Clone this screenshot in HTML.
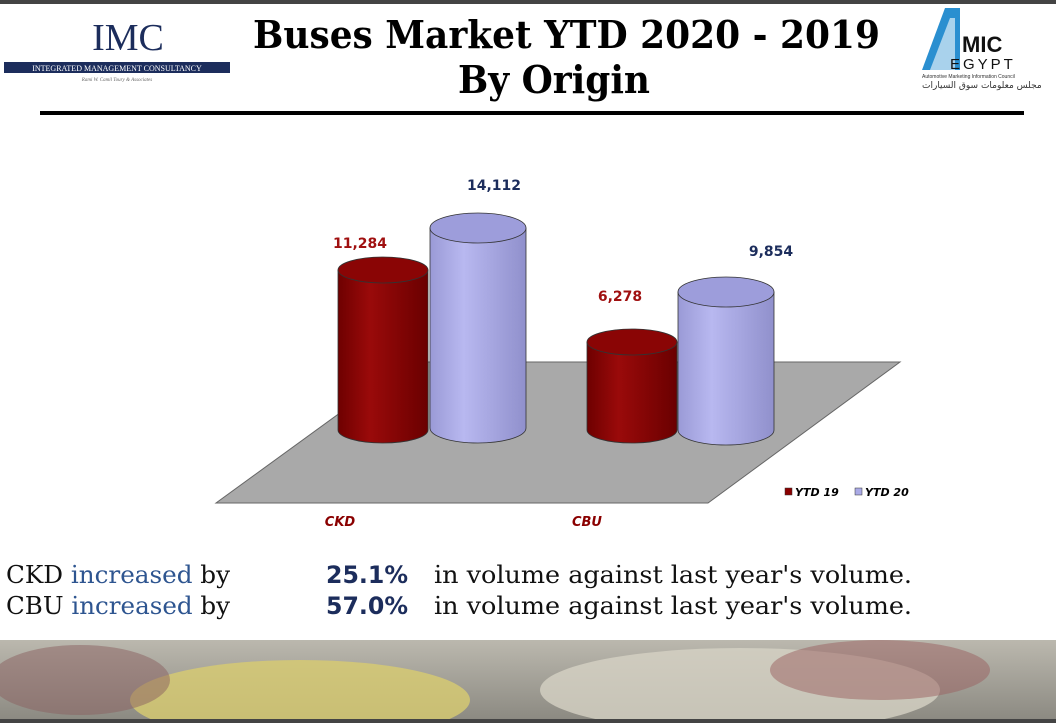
<!DOCTYPE html>
<html><head><meta charset="utf-8"><style>
html,body{margin:0;padding:0;width:1056px;height:723px;overflow:hidden;background:#fff;}
</style></head><body>
<svg width="1056" height="723" xmlns="http://www.w3.org/2000/svg" font-family="Liberation Serif, serif">
<defs>
<linearGradient id="red" x1="0" x2="1"><stop offset="0" stop-color="#6e0000"/><stop offset="0.35" stop-color="#9a0a0a"/><stop offset="1" stop-color="#6a0000"/></linearGradient>
<linearGradient id="blu" x1="0" x2="1"><stop offset="0" stop-color="#9a9ad6"/><stop offset="0.35" stop-color="#b8b8f0"/><stop offset="1" stop-color="#9090cc"/></linearGradient>
<linearGradient id="bg" x1="0" x2="0" y1="0" y2="1"><stop offset="0" stop-color="#bbb8ae"/><stop offset="1" stop-color="#8a8880"/></linearGradient>
</defs>
<rect x="0" y="0" width="1056" height="4" fill="#444"/>
<text x="128" y="50" font-size="38" fill="#1c2d5c" text-anchor="middle">IMC</text>
<rect x="4" y="62" width="226" height="11" fill="#1c2d5c"/>
<text x="117" y="71" font-size="8" fill="#fff" text-anchor="middle">INTEGRATED MANAGEMENT CONSULTANCY</text>
<text x="117" y="81" font-size="5" fill="#666" text-anchor="middle" font-style="italic">Rami W. Camil Toury &amp; Associates</text>
<text x="253" y="48" font-size="38" font-weight="bold" fill="#000" font-family="DejaVu Serif Condensed, DejaVu Serif, serif" textLength="627" lengthAdjust="spacingAndGlyphs">Buses Market YTD 2020 - 2019</text>
<text x="458" y="93" font-size="38" font-weight="bold" fill="#000" font-family="DejaVu Serif Condensed, DejaVu Serif, serif" textLength="192" lengthAdjust="spacingAndGlyphs">By Origin</text>
<polygon points="922,70 945,8 960,8 960,70" fill="#2a8fd0"/>
<polygon points="930,70 950,18 955,18 955,70" fill="#fff" opacity="0.6"/>
<text x="962" y="52" font-size="22" font-weight="bold" fill="#111" font-family="Liberation Sans, sans-serif">MIC</text>
<text x="950" y="69" font-size="15" fill="#111" font-family="Liberation Sans, sans-serif" letter-spacing="3">EGYPT</text>
<text x="922" y="78" font-size="5" fill="#333" font-family="Liberation Sans, sans-serif">Automotive Marketing Information Council</text>
<text x="922" y="88" font-size="9" fill="#333" font-family="DejaVu Sans, sans-serif">مجلس معلومات سوق السيارات</text>
<rect x="40" y="111" width="984" height="4" fill="#000"/>
<polygon points="216,503 708,503 900,362 410,362" fill="#a9a9a9" stroke="#666" stroke-width="1"/>
<g stroke="#333" stroke-width="0.8">
<path d="M338,270 L338,430 A45,13 0 0 0 428,430 L428,270 Z" fill="url(#red)"/>
<ellipse cx="383" cy="270" rx="45" ry="13" fill="#8a0505"/>
<path d="M430,228 L430,428 A48,15 0 0 0 526,428 L526,228 Z" fill="url(#blu)"/>
<ellipse cx="478" cy="228" rx="48" ry="15" fill="#9d9ddb"/>
<path d="M587,342 L587,430 A45,13 0 0 0 677,430 L677,342 Z" fill="url(#red)"/>
<ellipse cx="632" cy="342" rx="45" ry="13" fill="#8a0505"/>
<path d="M678,292 L678,430 A48,15 0 0 0 774,430 L774,292 Z" fill="url(#blu)"/>
<ellipse cx="726" cy="292" rx="48" ry="15" fill="#9d9ddb"/>
</g>
<g font-family="DejaVu Sans, sans-serif" font-weight="bold" font-size="14" text-anchor="middle">
<text x="360" y="248" fill="#a01010">11,284</text>
<text x="494" y="190" fill="#1c2d5c">14,112</text>
<text x="620" y="301" fill="#a01010">6,278</text>
<text x="771" y="256" fill="#1c2d5c">9,854</text>
</g>
<g font-family="DejaVu Sans, sans-serif" font-weight="bold" font-style="italic" font-size="13" text-anchor="middle" fill="#8a0000">
<text x="340" y="526">CKD</text>
<text x="587" y="526">CBU</text>
</g>
<rect x="785" y="488" width="7" height="7" fill="#8a0000" stroke="#333" stroke-width="0.5"/>
<text x="795" y="496" font-size="11" font-weight="bold" font-style="italic" font-family="DejaVu Sans, sans-serif" fill="#000">YTD 19</text>
<rect x="855" y="488" width="7" height="7" fill="#aaaae6" stroke="#333" stroke-width="0.5"/>
<text x="865" y="496" font-size="11" font-weight="bold" font-style="italic" font-family="DejaVu Sans, sans-serif" fill="#000">YTD 20</text>
<g font-size="24" font-family="DejaVu Serif Condensed, DejaVu Serif, serif">
<text x="6" y="583" textLength="224" lengthAdjust="spacingAndGlyphs"><tspan fill="#111">CKD </tspan><tspan fill="#2e5590">increased</tspan><tspan fill="#111"> by</tspan></text>
<text x="6" y="614" textLength="224" lengthAdjust="spacingAndGlyphs"><tspan fill="#111">CBU </tspan><tspan fill="#2e5590">increased</tspan><tspan fill="#111"> by</tspan></text>
<text x="326" y="583" font-weight="bold" fill="#1c2d5c" font-family="DejaVu Sans, sans-serif" textLength="82" lengthAdjust="spacingAndGlyphs">25.1%</text>
<text x="326" y="614" font-weight="bold" fill="#1c2d5c" font-family="DejaVu Sans, sans-serif" textLength="82" lengthAdjust="spacingAndGlyphs">57.0%</text>
<text x="434" y="583" fill="#111" textLength="478" lengthAdjust="spacingAndGlyphs">in volume against last year's volume.</text>
<text x="434" y="614" fill="#111" textLength="478" lengthAdjust="spacingAndGlyphs">in volume against last year's volume.</text>
</g>
<rect x="0" y="640" width="1056" height="83" fill="url(#bg)"/>
<ellipse cx="300" cy="700" rx="170" ry="40" fill="#d8cc70" opacity="0.8"/>
<ellipse cx="740" cy="690" rx="200" ry="42" fill="#d6d2c4" opacity="0.8"/>
<ellipse cx="80" cy="680" rx="90" ry="35" fill="#8a6060" opacity="0.5"/>
<ellipse cx="880" cy="670" rx="110" ry="30" fill="#9a6060" opacity="0.5"/>
<rect x="0" y="719" width="1056" height="4" fill="#444"/>
</svg>
</body></html>
